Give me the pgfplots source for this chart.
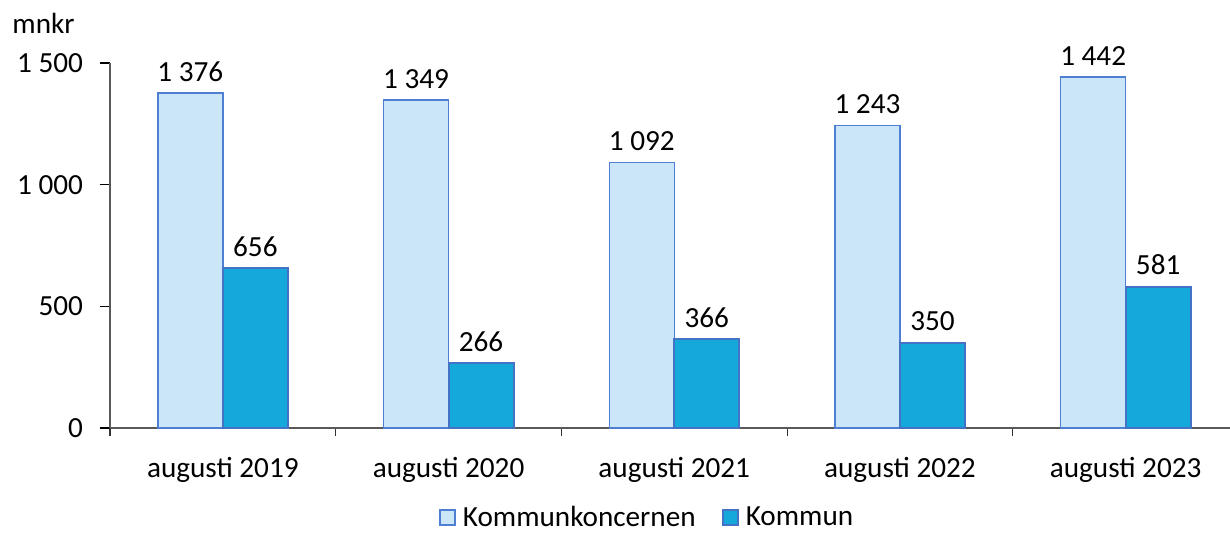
\documentclass[border=0pt]{standalone}
\usepackage{fontspec}
\setmainfont{Carlito}
\usepackage{pgfplots}
\pgfplotsset{compat=1.18}

\definecolor{lightfill}{HTML}{CBE6F8}
\definecolor{lightedge}{HTML}{4F7FD2}
\definecolor{darkfill}{HTML}{14A8DB}
\definecolor{darkedge}{HTML}{4472C4}
\newcommand{\chartfont}{\fontsize{14.6}{17}\selectfont}

\begin{document}
\begin{tikzpicture}[font=\chartfont]
\begin{axis}[
    at={(0,0)}, anchor=south west,
    scale only axis,
    clip=false,
    width=564.25pt, height=182.5pt,
    xmin=-0.5, xmax=4.5,
    ymin=0, ymax=1500,
    ytick={0,500,1000,1500},
    xtick={0,1,2,3,4},
    xticklabels={augusti 2019,augusti 2020,augusti 2021,augusti 2022,augusti 2023},
    minor xtick={-0.5,0.5,1.5,2.5,3.5,4.5},
    major x tick style={draw=none},
    minor x tick style={black!80, line width=0.6pt},
    y tick style={black, line width=0.6pt},
    tick align=outside,
    major tick length=5pt,
    minor tick length=4pt,
    axis x line*=bottom,
    axis y line*=left,
    axis line style={black!65, line width=0.8pt},
    ticklabel style={font=\chartfont},
    /pgf/number format/assume math mode=true,
    /pgf/number format/1000 sep={\ },
    yticklabel style={xshift=-5pt},
    xticklabel style={yshift=-6pt},
    ybar,
    bar width=0.288,
    nodes near coords,
    nodes near coords style={yshift=2pt, black, font=\chartfont},
    legend style={at={(0.4767,-0.245)}, anchor=center, draw=none,
        legend columns=2, font=\chartfont,
        /tikz/every odd column/.append style={column sep=1.5pt},
        /tikz/every even column/.append style={column sep=11pt}},
    legend image code/.code={\draw[#1, line width=1pt] (0pt,-3.8pt) rectangle (7.6pt,3.8pt);},
]
\addplot[fill=lightfill, draw=lightedge, line width=0.75pt, bar shift=-0.144] coordinates {
  (0,1376) (1,1349) (2,1092) (3,1243) (4,1442)
};
\addlegendentry{Kommunkoncernen}
\addplot[fill=darkfill, draw=darkedge, line width=1pt, bar shift=0.144] coordinates {
  (0,656) (1,266) (2,366) (3,350) (4,581)
};
\addlegendentry{Kommun}
\node[anchor=base west, inner sep=0pt] at (rel axis cs:-0.0868,1.082) {mnkr};
\end{axis}
\pgfresetboundingbox
\path[use as bounding box] (-55pt,-52pt) rectangle (560pt,214pt);
\end{tikzpicture}
\end{document}
